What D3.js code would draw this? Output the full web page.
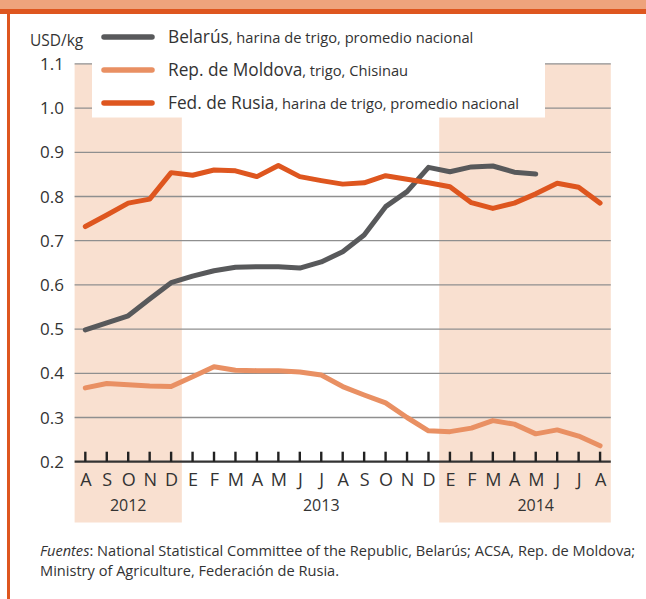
<!DOCTYPE html>
<html>
<head>
<meta charset="utf-8">
<script src="https://cdn.jsdelivr.net/npm/d3@7"></script>
<style>
  body { margin: 0; background: #fff; }
  svg { display: block; font-family: "Open Sans", "Noto Sans", sans-serif; }
</style>
</head>
<body>
<script>
// monthly prices, Aug 2012 .. Aug 2014
const months = ['A','S','O','N','D','E','F','M','A','M','J','J','A','S','O','N','D','E','F','M','A','M','J','J','A'];
const years = [{label: '2012', at: 2}, {label: '2013', at: 11}, {label: '2014', at: 21}];
const yTicks = [0.2, 0.3, 0.4, 0.5, 0.6, 0.7, 0.8, 0.9, 1.0, 1.1];

const belarus = [0.498, 0.514, 0.530, 0.568, 0.605, 0.620, 0.632, 0.640, 0.641, 0.641, 0.638, 0.652,
  0.675, 0.713, 0.777, 0.811, 0.866, 0.856, 0.867, 0.869, 0.855, 0.851];
const moldova = [0.367, 0.377, 0.374, 0.371, 0.370, 0.392, 0.415, 0.407, 0.406, 0.406, 0.403, 0.396,
  0.370, 0.351, 0.333, 0.300, 0.270, 0.268, 0.276, 0.293, 0.285, 0.263, 0.272, 0.258, 0.236];
const russia = [0.732, 0.758, 0.785, 0.794, 0.854, 0.848, 0.860, 0.858, 0.845, 0.870, 0.845, 0.836,
  0.828, 0.831, 0.847, 0.839, 0.831, 0.822, 0.786, 0.773, 0.785, 0.806, 0.830, 0.821, 0.785];

const series = [
  {name: 'Rep. de Moldova', sub: ', trigo, Chisinau', values: moldova, color: '#E99063'},
  {name: 'Belarús', sub: ', harina de trigo, promedio nacional', values: belarus, color: '#58595B'},
  {name: 'Fed. de Rusia', sub: ', harina de trigo, promedio nacional', values: russia, color: '#DE561F'}
];
const legendOrder = [1, 0, 2];

const width = 646, height = 599;
const svg = d3.select('body').append('svg').attr('width', width).attr('height', height);

const x = d3.scaleLinear().domain([-0.5, 24.5]).range([74.6, 610.8]);
const y = d3.scaleLinear().domain([0.2, 1.1]).range([461.7, 63.9]);

// frame: header band + left rule
svg.append('rect').attr('x', 0).attr('y', 0).attr('width', width).attr('height', 9).attr('fill', '#EEA37C');
svg.append('rect').attr('x', 0).attr('y', 9).attr('width', width).attr('height', 5).attr('fill', '#DE561F');
svg.append('rect').attr('x', 7).attr('y', 9).attr('width', 3).attr('height', height).attr('fill', '#DE561F');

// shaded years
[[-0.5, 4.5], [16.5, 24.5]].forEach(r => {
  svg.append('rect')
    .attr('x', x(r[0])).attr('y', y(1.1))
    .attr('width', x(r[1]) - x(r[0])).attr('height', 522.5 - y(1.1))
    .attr('fill', '#F9E0D0');
});

// grid
svg.append('g').selectAll('line')
  .data(yTicks.filter(d => d > 0.2))
  .enter().append('line')
  .attr('x1', x(-0.5)).attr('x2', x(24.5))
  .attr('y1', d => y(d)).attr('y2', d => y(d))
  .attr('stroke', '#8f8f8f').attr('stroke-width', 1.3);

// legend box covers the top grid line
svg.append('rect').attr('x', 92).attr('y', 20).attr('width', 453).attr('height', 97.5).attr('fill', '#fff');

// y labels
svg.append('g').selectAll('text')
  .data(yTicks)
  .enter().append('text')
  .attr('x', 64).attr('y', d => y(d)).attr('dy', '0.36em')
  .attr('text-anchor', 'end').attr('font-size', 17).attr('fill', '#333')
  .text(d => d.toFixed(1));

svg.append('text').attr('x', 30).attr('y', 46).attr('font-size', 15.5).attr('fill', '#333').text('USD/kg');

// x axis
const xAxis = d3.axisBottom(x)
  .tickValues(d3.range(months.length))
  .tickSize(0).tickPadding(12)
  .tickFormat(i => months[i]);
const ax = svg.append('g').attr('transform', 'translate(0,' + y(0.2) + ')').call(xAxis);
ax.select('.domain').remove();
ax.selectAll('text').attr('font-size', 18).attr('fill', '#333').attr('font-family', '"Open Sans", sans-serif');
svg.append('line').attr('x1', x(-0.5)).attr('x2', x(24.5)).attr('y1', y(0.2)).attr('y2', y(0.2))
  .attr('stroke', '#333').attr('stroke-width', 2.2);
svg.append('g').selectAll('line')
  .data(d3.range(months.length))
  .enter().append('line')
  .attr('x1', d => x(d)).attr('x2', d => x(d))
  .attr('y1', y(0.2) - 10).attr('y2', y(0.2))
  .attr('stroke', '#222').attr('stroke-width', 2.4);

svg.append('g').selectAll('text')
  .data(years)
  .enter().append('text')
  .attr('x', d => x(d.at)).attr('y', 511)
  .attr('text-anchor', 'middle').attr('font-size', 16).attr('fill', '#333')
  .text(d => d.label);

// lines
const line = d3.line().x((d, i) => x(i)).y(d => y(d));
svg.append('g').selectAll('path')
  .data(series)
  .enter().append('path')
  .attr('d', d => line(d.values))
  .attr('fill', 'none')
  .attr('stroke', d => d.color)
  .attr('stroke-width', 5)
  .attr('stroke-linejoin', 'round')
  .attr('stroke-linecap', 'round');

// legend
const leg = svg.append('g').selectAll('g')
  .data(legendOrder.map(i => series[i]))
  .enter().append('g')
  .attr('transform', (d, i) => 'translate(0,' + (37 + i * 33) + ')');
leg.append('line').attr('x1', 104).attr('x2', 152).attr('y1', 0).attr('y2', 0)
  .attr('stroke', d => d.color).attr('stroke-width', 5.5).attr('stroke-linecap', 'round');
const lt = leg.append('text').attr('x', 168).attr('y', 0).attr('dy', '0.35em').attr('fill', '#333');
lt.append('tspan').attr('font-size', 17.3).text(d => d.name);
lt.append('tspan').attr('font-size', 14.7).text(d => d.sub);

// source note
const note = svg.append('text').attr('x', 40).attr('y', 556).attr('font-size', 14.6).attr('fill', '#333');
note.append('tspan').attr('font-style', 'italic').text('Fuentes');
note.append('tspan').text(': National Statistical Committee of the Republic, Belarús; ACSA, Rep. de Moldova;');
svg.append('text').attr('x', 40).attr('y', 576).attr('font-size', 14.6).attr('fill', '#333')
  .text('Ministry of Agriculture, Federación de Rusia.');
</script>
</body>
</html>
